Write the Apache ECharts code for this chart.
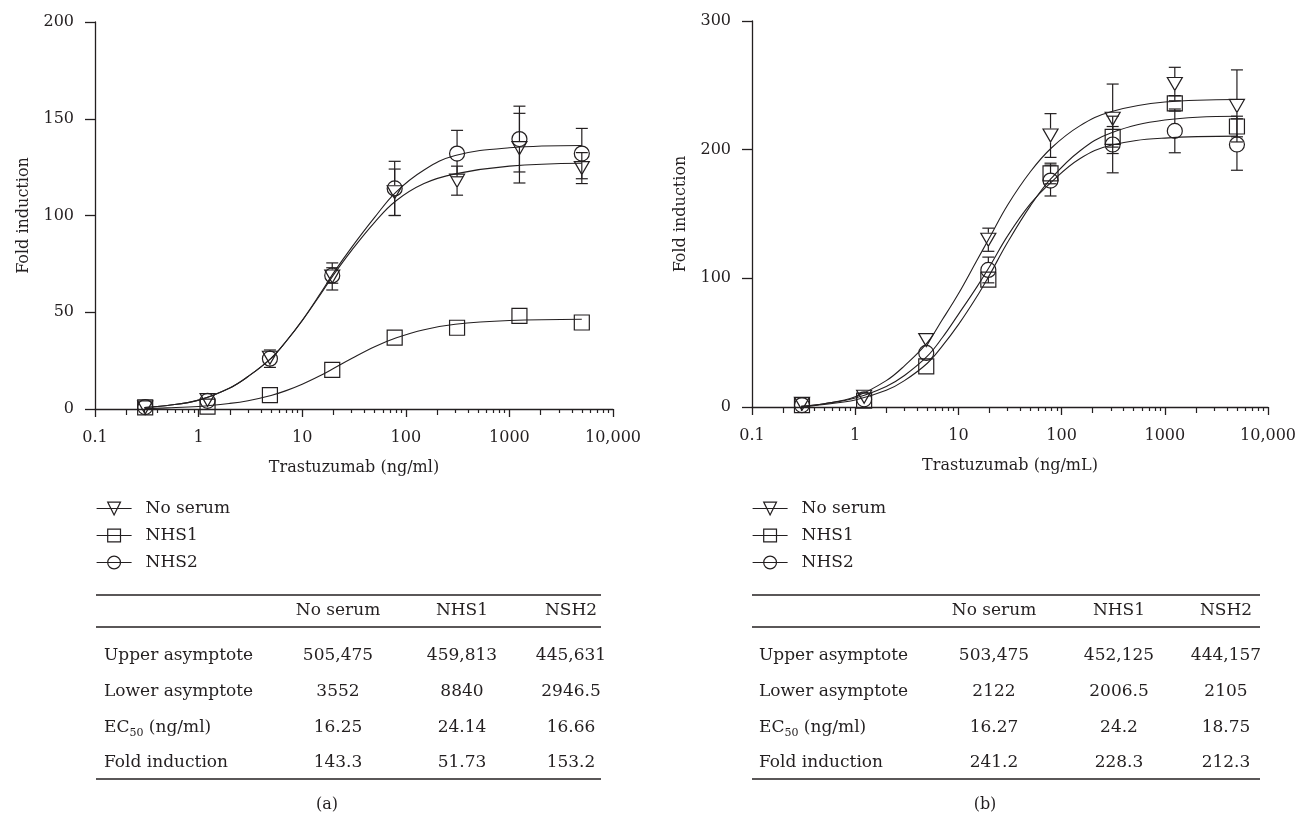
<!DOCTYPE html>
<html>
<head>
<meta charset="utf-8">
<title>Trastuzumab fold induction</title>
<script src="https://cdn.jsdelivr.net/npm/echarts@6/dist/echarts.min.js"></script>
<style>
  html, body { margin: 0; padding: 0; background: #fff; }
  #chart { width: 1299px; height: 816px; }
</style>
</head>
<body>
<div id="chart"></div>
<script>
// 数据：浓度（ng/ml），4倍稀释
const xConc = [0.305, 1.22, 4.88, 19.5, 78.1, 312.5, 1250, 5000];

// 面板 (a)
const aNoSerum = [0.8, 4.6, 26.5, 68.5, 112, 118, 134.8, 124.5];
const aNoSerumErr = [0.8, 3.5, 3.5, 7, 12, 7.5, 18, 8];
const aNHS1 = [0.8, 1.2, 7.2, 20.2, 36.9, 42, 48.1, 44.7];
const aNHS1Err = [0.5, 0.5, 1, 1.5, 2, 2, 2, 2];
const aNHS2 = [1, 4.2, 26, 69, 114, 132, 139.5, 132];
const aNHS2Err = [1, 2.5, 4.5, 4, 14, 12, 17, 13];

// 面板 (b)
const bNoSerum = [2.5, 8, 52, 130, 211, 224, 251, 234];
const bNoSerumErr = [1, 2, 4, 9, 17, 27, 13, 28];
const bNHS1 = [1.5, 5, 31.5, 99, 181.5, 210, 236, 218];
const bNHS1Err = [1, 2, 3, 5, 8, 8, 6, 8];
const bNHS2 = [1.5, 6, 42, 106.5, 176, 204, 214.6, 204];
const bNHS2Err = [1, 2, 3, 10, 12, 22, 17, 20];

// 拟合曲线
const curveX = [0.3, 0.5, 1, 2, 3, 5, 7, 10, 15, 20, 30, 50, 80, 150, 300, 1000, 5000];
const aCurveNoSerum = [0.8, 1.8, 4.6, 10.9, 16.8, 26.2, 35, 45.6, 59.2, 69.2, 82, 96.5, 107.5, 116.5, 121.5, 125.5, 127];
const aCurveNHS1 = [0.3, 0.6, 1.3, 2.9, 4.3, 7, 9.5, 12.8, 17.3, 20.9, 26.1, 32.2, 36.7, 41, 43.8, 45.7, 46.4];
const aCurveNHS2 = [0.8, 1.8, 4.6, 10.9, 16.8, 26.2, 35, 45.8, 59.8, 70.2, 83.5, 99, 112, 123.5, 131, 135, 136.2];
const bCurveNoSerum = [0.5, 2.5, 8, 20.5, 32, 50, 68, 88, 113.5, 131.5, 157, 183, 201.5, 218.5, 229.5, 237, 239];
const bCurveNHS1 = [0, 2, 5.5, 13, 20.5, 34, 47.5, 64, 85.5, 102.5, 128, 156.5, 178, 199, 213, 223, 226];
const bCurveNHS2 = [0.5, 2.5, 7, 16, 24.5, 39.5, 54, 72, 93, 109, 133, 158, 175, 193, 203.5, 209, 210.5];

// 坐标轴刻度
const xMajor = [0.1, 1, 10, 100, 1000, 10000];
const xTickLabels = ['0.1', '1', '10', '100', '1000', '10,000'];
const xTwos = [0.2, 2, 20, 200, 2000];
const xMinor = [0.3, 0.4, 0.5, 0.6, 0.7, 0.8, 0.9, 3, 4, 5, 6, 7, 8, 9, 30, 40, 50, 60, 70, 80, 90,
  300, 400, 500, 600, 700, 800, 900, 3000, 4000, 5000, 6000, 7000, 8000, 9000];

// 图例与表格
const seriesNames = ['No serum', 'NHS1', 'NHS2'];
const tableHeader = ['No serum', 'NHS1', 'NSH2'];
const tableRows = ['Upper asymptote', 'Lower asymptote', 'EC50 (ng/ml)', 'Fold induction'];
const tableA = [
  ['505,475', '459,813', '445,631'],
  ['3552', '8840', '2946.5'],
  ['16.25', '24.14', '16.66'],
  ['143.3', '51.73', '153.2']
];
const tableB = [
  ['503,475', '452,125', '444,157'],
  ['2122', '2006.5', '2105'],
  ['16.27', '24.2', '18.75'],
  ['241.2', '228.3', '212.3']
];

const INK = '#231f20';
const FONT = 'DejaVu Serif';

const chart = echarts.init(document.getElementById('chart'));

const symbols = [
  { symbol: 'triangle', rotate: 180, size: [15, 13] },
  { symbol: 'rect', rotate: 0, size: 15 },
  { symbol: 'circle', rotate: 0, size: 15 }
];

function pairs(xs, ys) {
  return xs.map((x, i) => [x, ys[i]]);
}

// x 轴：主刻度、2 倍刻度、次刻度
function xAxes(gridIndex, title) {
  const base = {
    gridIndex: gridIndex, type: 'log', logBase: 10, min: 0.1, max: 10000, position: 'bottom',
    splitLine: { show: false }, minorTick: { show: false }
  };
  return [
    Object.assign({}, base, {
      name: title, nameLocation: 'middle', nameGap: 51,
      nameTextStyle: { fontFamily: FONT, fontSize: 16, color: INK },
      axisLine: { show: true, onZero: false, lineStyle: { color: INK, width: 1.3 } },
      axisTick: { show: true, customValues: xMajor, length: 8, lineStyle: { color: INK, width: 1.3 } },
      axisLabel: {
        customValues: xMajor, margin: 21, fontFamily: FONT, fontSize: 16, color: INK,
        formatter: function (v) { return xTickLabels[Math.round(Math.log10(v)) + 1]; }
      }
    }),
    Object.assign({}, base, {
      axisLine: { show: false }, axisLabel: { show: false },
      axisTick: { show: true, customValues: xTwos, length: 6, lineStyle: { color: INK, width: 1.2 } }
    }),
    Object.assign({}, base, {
      axisLine: { show: false }, axisLabel: { show: false },
      axisTick: { show: true, customValues: xMinor, length: 4, lineStyle: { color: INK, width: 1.2 } }
    })
  ];
}

function yAxis(gridIndex, max, interval) {
  return {
    gridIndex: gridIndex, type: 'value', min: 0, max: max, interval: interval,
    name: 'Fold induction', nameLocation: 'middle', nameGap: 63,
    nameTextStyle: { fontFamily: FONT, fontSize: 16, color: INK },
    axisLine: { show: true, onZero: false, lineStyle: { color: INK, width: 1.3 } },
    axisTick: { show: true, length: 10, lineStyle: { color: INK, width: 1.3 } },
    axisLabel: { margin: 21, fontFamily: FONT, fontSize: 16, color: INK },
    splitLine: { show: false }
  };
}

function pointSeries(k, ys, xi, yi) {
  return {
    type: 'line', name: seriesNames[k], xAxisIndex: xi, yAxisIndex: yi,
    data: pairs(xConc, ys),
    symbol: symbols[k].symbol, symbolRotate: symbols[k].rotate, symbolSize: symbols[k].size,
    showAllSymbol: true,
    itemStyle: { color: 'rgba(0,0,0,0)', borderColor: INK, borderWidth: 1.2 },
    lineStyle: { opacity: 0, width: 0 },
    emphasis: { disabled: true }, z: 4
  };
}

function curveSeries(name, ys, xi, yi) {
  return {
    type: 'line', name: name, xAxisIndex: xi, yAxisIndex: yi,
    data: pairs(curveX, ys), smooth: 0.4, showSymbol: false, symbol: 'none',
    lineStyle: { color: INK, width: 1.1 }, emphasis: { disabled: true }, z: 2
  };
}

// 误差线：只画到符号边缘之外
function errorSeries(name, ys, errs, xi, yi) {
  return {
    type: 'custom', name: name, xAxisIndex: xi, yAxisIndex: yi, silent: true, clip: false, z: 3,
    data: xConc.map((x, i) => [x, ys[i], errs[i]]),
    renderItem: function (params, api) {
      const x = api.value(0), y = api.value(1), e = api.value(2);
      const c = api.coord([x, y]);
      const hi = api.coord([x, y + e]);
      const lo = api.coord([x, y - e]);
      const r = 7, w = 6;
      const style = { stroke: INK, lineWidth: 1.2 };
      const children = [];
      if (c[1] - hi[1] > r) {
        children.push({ type: 'line', shape: { x1: c[0], y1: c[1] - r, x2: hi[0], y2: hi[1] }, style: style });
        children.push({ type: 'line', shape: { x1: hi[0] - w, y1: hi[1], x2: hi[0] + w, y2: hi[1] }, style: style });
      }
      if (lo[1] - c[1] > r) {
        children.push({ type: 'line', shape: { x1: c[0], y1: c[1] + r, x2: lo[0], y2: lo[1] }, style: style });
        children.push({ type: 'line', shape: { x1: lo[0] - w, y1: lo[1], x2: lo[0] + w, y2: lo[1] }, style: style });
      }
      return { type: 'group', children: children };
    }
  };
}

function legend(left) {
  return {
    data: seriesNames, orient: 'vertical', left: left, top: 500, padding: 0,
    itemWidth: 35, itemHeight: 16, itemGap: 10, selectedMode: false,
    textStyle: { fontFamily: FONT, fontSize: 17, color: INK, padding: [0, 0, 0, 9] },
    lineStyle: { color: INK, width: 1.2, opacity: 1 },
    itemStyle: { borderColor: INK, borderWidth: 1.2 }
  };
}

// 表格（graphic）
function tableGraphic(values, layout) {
  const els = [];
  const lineStyle = { stroke: INK, lineWidth: 1.3 };
  [595, 627, 779].forEach(y => {
    els.push({ type: 'line', shape: { x1: layout.x1, y1: y, x2: layout.x2, y2: y }, style: lineStyle });
  });
  tableHeader.forEach((h, j) => {
    els.push({ type: 'text', x: layout.cols[j], y: 611,
      style: { text: h, font: '17px "' + FONT + '"', fill: INK, align: 'center', verticalAlign: 'middle' } });
  });
  const rowY = [656, 692, 728, 763];
  tableRows.forEach((label, i) => {
    let text = label;
    if (label.indexOf('EC50') === 0) {
      text = '{n|EC}{s|50}{n|' + label.slice(4) + '}';
    }
    els.push({ type: 'text', x: layout.labelX, y: rowY[i],
      style: {
        text: text, font: '17px "' + FONT + '"', fill: INK, align: 'left', verticalAlign: 'middle',
        rich: {
          n: { fontFamily: FONT, fontSize: 17, color: INK, lineHeight: 22, verticalAlign: 'middle' },
          s: { fontFamily: FONT, fontSize: 11, color: INK, lineHeight: 22, verticalAlign: 'bottom' }
        }
      } });
    values[i].forEach((v, j) => {
      els.push({ type: 'text', x: layout.cols[j], y: rowY[i],
        style: { text: v, font: '17px "' + FONT + '"', fill: INK, align: 'center', verticalAlign: 'middle' } });
    });
  });
  els.push({ type: 'text', x: layout.tag[0], y: layout.tag[1],
    style: { text: layout.tagText, font: '16px "' + FONT + '"', fill: INK, align: 'center', verticalAlign: 'middle' } });
  return els;
}

const option = {
  animation: false,
  backgroundColor: '#fff',
  grid: [
    { left: 95, top: 22, width: 518, height: 387 },
    { left: 752, top: 21, width: 521, height: 386 }
  ],
  xAxis: xAxes(0, 'Trastuzumab (ng/ml)').concat(xAxes(1, 'Trastuzumab (ng/mL)')),
  yAxis: [yAxis(0, 200, 50), yAxis(1, 300, 100)],
  legend: [legend(96), legend(752)],
  series: [
    pointSeries(0, aNoSerum, 0, 0),
    pointSeries(1, aNHS1, 0, 0),
    pointSeries(2, aNHS2, 0, 0),
    pointSeries(0, bNoSerum, 3, 1),
    pointSeries(1, bNHS1, 3, 1),
    pointSeries(2, bNHS2, 3, 1),
    curveSeries('fit a no serum', aCurveNoSerum, 0, 0),
    curveSeries('fit a NHS1', aCurveNHS1, 0, 0),
    curveSeries('fit a NHS2', aCurveNHS2, 0, 0),
    curveSeries('fit b no serum', bCurveNoSerum, 3, 1),
    curveSeries('fit b NHS1', bCurveNHS1, 3, 1),
    curveSeries('fit b NHS2', bCurveNHS2, 3, 1),
    errorSeries('err a no serum', aNoSerum, aNoSerumErr, 0, 0),
    errorSeries('err a NHS1', aNHS1, aNHS1Err, 0, 0),
    errorSeries('err a NHS2', aNHS2, aNHS2Err, 0, 0),
    errorSeries('err b no serum', bNoSerum, bNoSerumErr, 3, 1),
    errorSeries('err b NHS1', bNHS1, bNHS1Err, 3, 1),
    errorSeries('err b NHS2', bNHS2, bNHS2Err, 3, 1)
  ],
  graphic: tableGraphic(tableA, {
    x1: 96, x2: 601, labelX: 104, cols: [338, 462, 571], tag: [327, 805], tagText: '(a)'
  }).concat(tableGraphic(tableB, {
    x1: 752, x2: 1260, labelX: 759, cols: [994, 1119, 1226], tag: [985, 805], tagText: '(b)'
  }))
};

chart.setOption(option);
</script>
</body>
</html>
